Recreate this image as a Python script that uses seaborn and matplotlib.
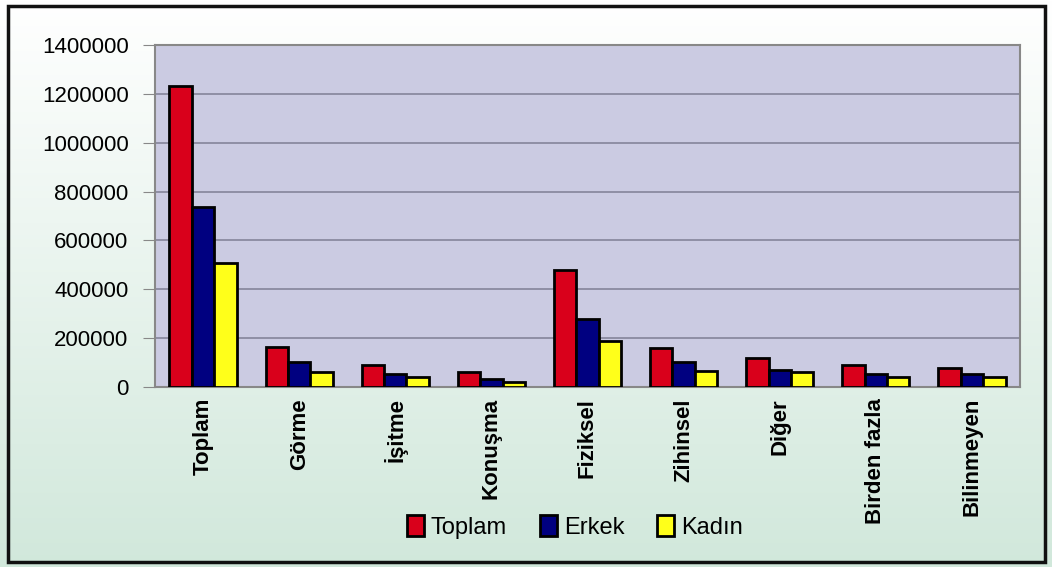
import numpy as np
import pandas as pd
import seaborn as sns
import matplotlib.pyplot as plt
from matplotlib.patches import Rectangle

# Engelli nüfus, engel türüne göre
categories = ["Toplam", "Görme", "İşitme", "Konuşma", "Fiziksel",
              "Zihinsel", "Diğer", "Birden fazla", "Bilinmeyen"]
toplam = [1232000, 162000, 90000, 60000, 479000, 161000, 120000, 89000, 79000]
erkek = [738000, 104000, 53000, 33000, 278000, 101000, 71000, 53000, 53000]
kadin = [509000, 60000, 42000, 20000, 188000, 67000, 60000, 40000, 40000]
series = ["Toplam", "Erkek", "Kadın"]
colors = ["#d9001b", "#000080", "#ffff1a"]

df = pd.DataFrame({
    "kategori": categories * 3,
    "seri": [s for s in series for _ in categories],
    "deger": toplam + erkek + kadin,
})

sns.set_style("white")
plt.rcParams["font.family"] = ["Liberation Sans", "DejaVu Sans"]
plt.rcParams["text.color"] = "black"
plt.rcParams["xtick.labelcolor"] = "black"
plt.rcParams["ytick.labelcolor"] = "black"

fig = plt.figure(figsize=(10.52, 5.67), dpi=100)

# gradient background (white -> pale green)
bg = fig.add_axes([0, 0, 1, 1], zorder=-10)
grad = np.linspace(0, 1, 256).reshape(-1, 1)
top = np.array([1.0, 1.0, 1.0])
bot = np.array([0.82, 0.91, 0.86])
img = top + (bot - top) * grad[:, :, None]
bg.imshow(img, aspect="auto", extent=[0, 1, 0, 1], origin="upper")
bg.axis("off")
fig.patches.append(Rectangle((0.008, 0.008), 0.985, 0.982, transform=fig.transFigure,
                             fill=False, edgecolor="#111111", linewidth=2.5))

ax = fig.add_axes([155 / 1052, 1 - 387 / 567, 865 / 1052, 342 / 567])
ax.set_facecolor("#cbcbe2")
sns.barplot(data=df, x="kategori", y="deger", hue="seri", palette=colors,
            saturation=1, width=0.7, edgecolor="black", linewidth=2,
            ax=ax, zorder=3)

ax.set_ylim(0, 1400000)
ax.set_yticks(range(0, 1400001, 200000))
ax.set_yticklabels([str(v) for v in range(0, 1400001, 200000)], fontsize=16)
ax.yaxis.grid(True, color="#85859a", linewidth=1.2)
ax.set_axisbelow(True)
ax.set_xlim(-0.5, len(categories) - 0.5)

ax.set_xticks(range(len(categories)))
ax.set_xticklabels(categories, rotation=90, fontsize=16, fontweight="bold")
ax.tick_params(axis="x", length=0, pad=8)
ax.set_xticks(np.arange(-0.5, len(categories)), minor=True)
ax.tick_params(axis="x", which="minor", length=7, color="#888888", direction="out")
ax.tick_params(axis="y", length=9, pad=10, color="#888888", direction="out", left=True)
ax.set_xlabel("")
ax.set_ylabel("")

for side in ["top", "right", "left", "bottom"]:
    ax.spines[side].set_color("#888888")
    ax.spines[side].set_linewidth(1.5)

leg = ax.legend(title=None, loc="center", bbox_to_anchor=(575 / 1052, 1 - 527 / 567),
                bbox_transform=fig.transFigure, ncol=3, frameon=False, fontsize=17,
                handlelength=0.7, handleheight=1.0, handletextpad=0.3, columnspacing=1.4)

fig.savefig("out.png", dpi=100)
